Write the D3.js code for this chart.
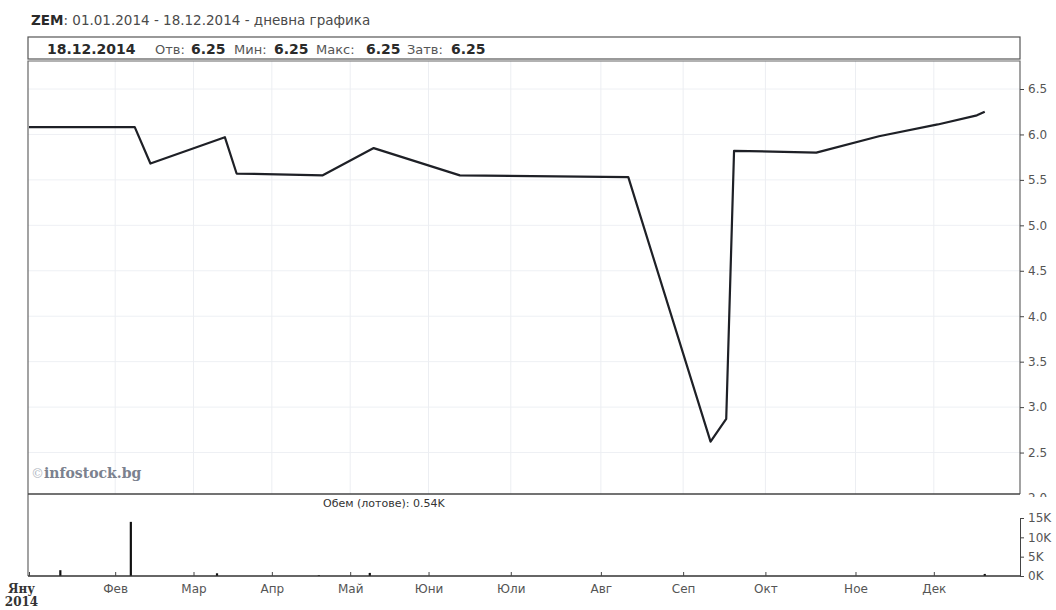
<!DOCTYPE html>
<html>
<head>
<meta charset="utf-8">
<script src="https://cdn.jsdelivr.net/npm/d3@7"></script>
<style>
  body { margin: 0; background: #fff; }
  text { font-family: "DejaVu Sans", Verdana, sans-serif; }
</style>
</head>
<body>
<script>
// price series (close) - dates and values
var priceDates = ["2014-01-02","2014-02-10","2014-02-14","2014-03-14","2014-03-19","2014-04-22",
  "2014-05-13","2014-06-12","2014-08-12","2014-09-10","2014-09-16","2014-09-18",
  "2014-10-20","2014-11-11","2014-12-02","2014-12-16","2014-12-18"];
var priceValues = [6.08, 6.08, 5.68, 5.97, 5.57, 5.55, 5.85, 5.55, 5.53, 2.62, 2.87, 5.82,
  5.80, 5.98, 6.11, 6.21, 6.25];

// volume (lots)
var volumeDates = ["2014-01-14","2014-02-07","2014-03-12","2014-04-17","2014-05-12","2014-12-18"];
var volumeValues = [1500, 14000, 700, 200, 800, 540];

// axis labels
var monthNames = ["Яну","Фев","Мар","Апр","Май","Юни","Юли","Авг","Сеп","Окт","Ное","Дек"];
var priceTicks = [2.0, 2.5, 3.0, 3.5, 4.0, 4.5, 5.0, 5.5, 6.0, 6.5];
var volumeTicks = [0, 5000, 10000, 15000];

// non trading days on the exchange
var holidays = ["2014-01-01","2014-03-03","2014-04-18","2014-04-21","2014-05-01","2014-05-06",
  "2014-09-22","2014-12-24","2014-12-25","2014-12-26","2014-12-31"];

var fmt = d3.timeFormat("%Y-%m-%d");

// the chart's x axis runs on trading days, not calendar days
var tradingDays = d3.timeDay.range(new Date(2014, 0, 1), new Date(2015, 0, 1))
  .filter(function(d) { return d.getDay() % 6 !== 0 && holidays.indexOf(fmt(d)) < 0; });
var dayIndex = {};
tradingDays.forEach(function(d, i) { dayIndex[fmt(d)] = i; });

// first trading day of each month -> tick
var monthTicks = [];
tradingDays.forEach(function(d, i) {
  if (i === 0 || d.getMonth() !== tradingDays[i - 1].getMonth()) monthTicks.push(i);
});

var width = 1056, height = 610;
var left = 28, right = 1020;
var priceTop = 61, priceBottom = 494;
var volBottom = 576;

var svg = d3.select("body").append("svg")
  .attr("width", width)
  .attr("height", height);

// scales
var x = d3.scaleLinear().domain([0, 253]).range([left + 1, right]);
var y = d3.scaleLinear().domain([2.0, 6.5]).range([498, 89]);
var yv = d3.scaleLinear().domain([0, 15000]).range([volBottom, 518]);

// ---- header
var h1 = svg.append("text").attr("x", 31).attr("y", 25).style("font-size", "13.5px");
h1.append("tspan").attr("font-weight", "bold").attr("fill", "#2a2a2a").text("ZEM");
h1.append("tspan").attr("fill", "#4a4a4a").text(": 01.01.2014 - 18.12.2014 - дневна графика");

svg.append("rect")
  .attr("x", left).attr("y", 37).attr("width", right - left).attr("height", 22)
  .attr("fill", "none").attr("stroke", "#555").attr("stroke-width", 1.2);

var infoRow = [
  {x: 47, t: "18.12.2014", b: true},
  {x: 155, t: "Отв:", b: false}, {x: 191, t: "6.25", b: true},
  {x: 234, t: "Мин:", b: false}, {x: 274, t: "6.25", b: true},
  {x: 316, t: "Макс:", b: false}, {x: 366, t: "6.25", b: true},
  {x: 407, t: "Затв:", b: false}, {x: 451, t: "6.25", b: true}
];
svg.selectAll(".info").data(infoRow).enter().append("text")
  .attr("class", "info")
  .attr("x", function(d) { return d.x; })
  .attr("y", 54)
  .attr("font-weight", function(d) { return d.b ? "bold" : "normal"; })
  .attr("fill", function(d) { return d.b ? "#2a2a2a" : "#555"; })
  .style("font-size", function(d) { return d.b ? "14px" : "13px"; })
  .text(function(d) { return d.t; });

// ---- price panel grid
svg.append("g").selectAll("line").data(priceTicks.slice(1)).enter().append("line")
  .attr("x1", left).attr("x2", right)
  .attr("y1", function(d) { return y(d); }).attr("y2", function(d) { return y(d); })
  .attr("stroke", "#eef0f4");
svg.append("g").selectAll("line").data(monthTicks.slice(1)).enter().append("line")
  .attr("x1", function(d) { return x(d); }).attr("x2", function(d) { return x(d); })
  .attr("y1", priceTop).attr("y2", priceBottom)
  .attr("stroke", "#eceef2");

// panel frames
svg.append("path")
  .attr("d", "M" + left + "," + volBottom + "V" + priceTop + "H" + right + "V" + priceBottom)
  .attr("fill", "none").attr("stroke", "#666").attr("stroke-width", 1.2);
svg.append("line")
  .attr("x1", left).attr("x2", right).attr("y1", priceBottom).attr("y2", priceBottom)
  .attr("stroke", "#444").attr("stroke-width", 1.5);

// watermark
var wm = svg.append("text").attr("x", 31).attr("y", 478)
  .style("font-family", "'DejaVu Serif', 'Liberation Serif', serif");
wm.append("tspan").attr("fill", "#b4b9c4").style("font-size", "13px").text("©");
wm.append("tspan").attr("fill", "#7b818e").attr("font-weight", "bold").style("font-size", "14px").text("infostock.bg");

// price axis (right), last label cut by the volume panel
svg.append("clipPath").attr("id", "pclip")
  .append("rect").attr("x", -10).attr("y", priceTop).attr("width", 60).attr("height", 436);
var yAxis = svg.append("g")
  .attr("transform", "translate(" + right + ",0)")
  .attr("clip-path", "url(#pclip)")
  .call(d3.axisRight(y).tickValues(priceTicks).tickFormat(d3.format(".1f")).tickSize(4).tickPadding(4));
yAxis.select(".domain").remove();
yAxis.selectAll("line").attr("stroke", "#444");
yAxis.selectAll("text").attr("fill", "#555").style("font-size", "12px")
  .style("font-family", "'DejaVu Sans', Verdana, sans-serif");

// price line
var line = d3.line()
  .x(function(d) { return x(dayIndex[d.date]); })
  .y(function(d) { return y(d.value); });
var priceData = priceDates.map(function(d, i) { return {date: d, value: priceValues[i]}; });
svg.append("path")
  .datum(priceData)
  .attr("d", line)
  .attr("fill", "none")
  .attr("stroke", "#1e2026")
  .attr("stroke-width", 2.2)
  .attr("stroke-linejoin", "round");

// ---- volume panel
svg.append("text").attr("x", 323).attr("y", 507)
  .attr("fill", "#333").style("font-size", "11px")
  .text("Обем (лотове): 0.54K");

svg.append("g").selectAll("line").data(volumeDates).enter().append("line")
  .attr("x1", function(d) { return x(dayIndex[d]); })
  .attr("x2", function(d) { return x(dayIndex[d]); })
  .attr("y1", yv(0))
  .attr("y2", function(d, i) { return yv(volumeValues[i]); })
  .attr("stroke", "#111").attr("stroke-width", 2.2);

var vAxis = svg.append("g")
  .attr("transform", "translate(" + right + ",0)")
  .call(d3.axisRight(yv).tickValues(volumeTicks)
    .tickFormat(function(d) { return (d / 1000) + "K"; }).tickSize(4).tickSizeOuter(0).tickPadding(4));
vAxis.select(".domain").attr("stroke", "#444");
vAxis.selectAll("line").attr("stroke", "#444");
vAxis.selectAll("text").attr("fill", "#555").style("font-size", "12px")
  .style("font-family", "'DejaVu Sans', Verdana, sans-serif");

// ---- x axis (months) under the volume panel
var xAxis = svg.append("g")
  .attr("transform", "translate(0," + volBottom + ")")
  .call(d3.axisBottom(x).tickValues(monthTicks)
    .tickFormat(function(d) { return monthNames[tradingDays[d].getMonth()]; })
    .tickSizeInner(-4).tickSizeOuter(0).tickPadding(8));
xAxis.select(".domain").attr("stroke", "#333").attr("stroke-width", 1.5)
  .attr("d", "M" + left + ",0H" + right);
xAxis.selectAll("line").attr("stroke", "#444");
xAxis.selectAll("text").attr("fill", "#555").style("font-size", "12px")
  .style("font-family", "'DejaVu Sans', Verdana, sans-serif");

// first month label is bold serif with the year under it
var first = xAxis.select(".tick text");
first.attr("fill", "#333").attr("font-weight", "bold")
  .style("font-family", "'DejaVu Serif', 'Liberation Serif', serif")
  .attr("x", -8);
xAxis.select(".tick").append("text")
  .attr("x", -8).attr("y", 21).attr("dy", "0.71em")
  .attr("fill", "#333").attr("font-weight", "bold").attr("text-anchor", "middle")
  .style("font-size", "12px")
  .style("font-family", "'DejaVu Serif', 'Liberation Serif', serif")
  .text("2014");
</script>
</body>
</html>
